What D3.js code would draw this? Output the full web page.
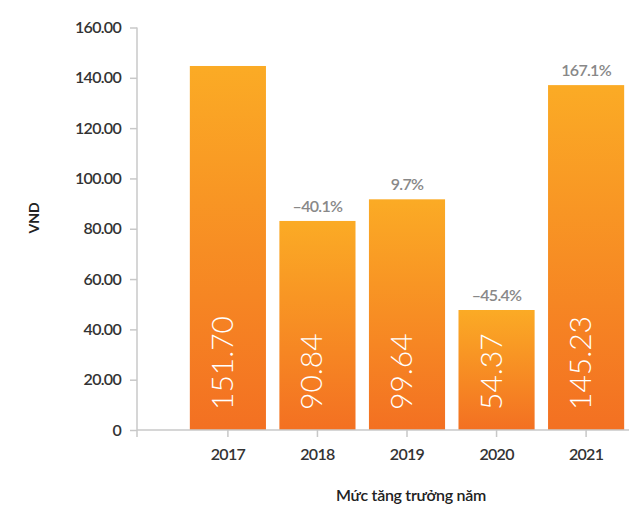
<!DOCTYPE html>
<html>
<head>
<meta charset="utf-8">
<script src="https://cdn.jsdelivr.net/npm/d3@7"></script>
<style>
  body { margin: 0; background: #fff; }
  svg { display: block; font-family: Lato, "Open Sans", sans-serif; }
</style>
</head>
<body>
<script>
// data
var years = ["2017", "2018", "2019", "2020", "2021"]
var barHeights = [144.7, 83.1, 91.7, 47.7, 137.1]   // drawn bar heights
var valueLabels = ["151.70", "90.84", "99.64", "54.37", "145.23"]
var growthLabels = ["", "\u201340.1%", "9.7%", "\u201345.4%", "167.1%"]
var yTicks = [0, 20, 40, 60, 80, 100, 120, 140, 160]

var width = 629, height = 509

var svg = d3.select("body").append("svg")
  .attr("width", width)
  .attr("height", height)

var y = d3.scaleLinear().domain([0, 160]).range([430, 27.5])
var x = d3.scaleBand().domain(years).range([137, 677])
  .paddingInner(0.15).paddingOuter(0.59)

// gradient for bars (top lighter, bottom deeper orange)
var grad = svg.append("defs").append("linearGradient")
  .attr("id", "barGrad")
  .attr("x1", 0).attr("y1", 0).attr("x2", 0).attr("y2", 1)
grad.append("stop").attr("offset", "0%").attr("stop-color", "#fbab25")
grad.append("stop").attr("offset", "100%").attr("stop-color", "#f37022")

// y axis
var yAxis = svg.append("g")
  .attr("transform", "translate(137,0)")
  .call(d3.axisLeft(y).tickValues(yTicks).tickSize(7).tickPadding(9)
    .tickFormat(function(d) { return d == 0 ? "0" : d3.format(".2f")(d) }))
yAxis.select(".domain").attr("d", "M0,27.5V437").attr("stroke", "#c8c8c8").attr("stroke-width", 1.5)
yAxis.selectAll(".tick line").attr("stroke", "#c8c8c8").attr("stroke-width", 1.5)
yAxis.selectAll(".tick text")
  .attr("fill", "#333")
  .attr("font-size", "16px")
  .attr("font-weight", 600)
  .attr("font-family", "Lato, sans-serif")
  .attr("letter-spacing", "-0.7px")

// bars
svg.selectAll("rect.bar")
  .data(years)
  .enter()
  .append("rect")
  .attr("class", "bar")
  .attr("x", function(d) { return x(d) })
  .attr("width", x.bandwidth())
  .attr("y", function(d, i) { return y(barHeights[i]) })
  .attr("height", function(d, i) { return y(0) - y(barHeights[i]) })
  .attr("fill", "url(#barGrad)")

// x axis
var xAxis = svg.append("g")
  .attr("transform", "translate(0,430)")
  .call(d3.axisBottom(x).tickSize(7).tickPadding(12))
xAxis.select(".domain").attr("d", "M137,0H629").attr("stroke", "#c8c8c8").attr("stroke-width", 1.5)
xAxis.selectAll(".tick line").attr("stroke", "#c8c8c8").attr("stroke-width", 1.5)
xAxis.selectAll(".tick text")
  .attr("fill", "#333")
  .attr("font-size", "16px")
  .attr("font-weight", 600)
  .attr("font-family", "Lato, sans-serif")
  .attr("letter-spacing", "-0.7px")

// values written up inside the bars
svg.selectAll("text.val")
  .data(years)
  .enter()
  .append("text")
  .attr("class", "val")
  .attr("transform", function(d) {
    return "translate(" + (x(d) + x.bandwidth() / 2 + 5) + "," + 410 + ") rotate(-90)"
  })
  .attr("fill", "#fff")
  .attr("font-size", "30px")
  .attr("font-weight", 300)
  .text(function(d, i) { return valueLabels[i] })

// growth labels above bars
svg.selectAll("text.growth")
  .data(years)
  .enter()
  .append("text")
  .attr("class", "growth")
  .attr("x", function(d) { return x(d) + x.bandwidth() / 2 })
  .attr("y", function(d, i) { return y(barHeights[i]) - 9 })
  .attr("text-anchor", "middle")
  .attr("fill", "#888")
  .attr("font-size", "16px")
  .attr("font-weight", 600)
  .attr("letter-spacing", "-0.7px")
  .text(function(d, i) { return growthLabels[i] })

// axis titles
svg.append("text")
  .attr("transform", "translate(39,218) rotate(-90)")
  .attr("text-anchor", "middle")
  .attr("fill", "#222")
  .attr("font-size", "14px")
  .attr("font-weight", "bold")
  .text("VND")

svg.append("text")
  .attr("x", 411)
  .attr("y", 501)
  .attr("text-anchor", "middle")
  .attr("fill", "#222")
  .attr("font-size", "16px")
  .attr("font-weight", 600)
  .attr("letter-spacing", "-0.3px")
  .text("Mức tăng trưởng năm")
</script>
</body>
</html>
